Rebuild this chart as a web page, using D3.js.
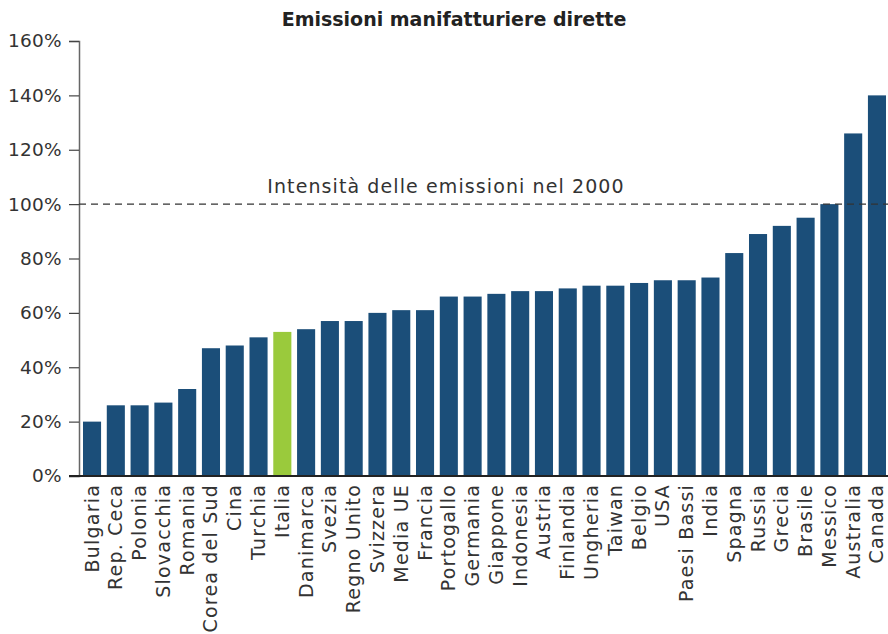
<!DOCTYPE html>
<html>
<head>
<meta charset="utf-8">
<script src="https://cdn.jsdelivr.net/npm/d3@7"></script>
<style>
  body { margin: 0; background: #fff; }
  text { font-family: "DejaVu Sans", sans-serif; fill: #333; }
</style>
</head>
<body>
<svg id="chart" width="888" height="634"></svg>
<script>
var paesi = ["Bulgaria", "Rep. Ceca", "Polonia", "Slovacchia", "Romania", "Corea del Sud", "Cina", "Turchia",
  "Italia", "Danimarca", "Svezia", "Regno Unito", "Svizzera", "Media UE", "Francia", "Portogallo", "Germania",
  "Giappone", "Indonesia", "Austria", "Finlandia", "Ungheria", "Taiwan", "Belgio", "USA", "Paesi Bassi",
  "India", "Spagna", "Russia", "Grecia", "Brasile", "Messico", "Australia", "Canada"];
var valori = [20, 26, 26, 27, 32, 47, 48, 51,
  53, 54, 57, 57, 60, 61, 61, 66, 66,
  67, 68, 68, 69, 70, 70, 71, 72, 72,
  73, 82, 89, 92, 95, 100, 126, 140];
var yTicks = [0, 20, 40, 60, 80, 100, 120, 140, 160];
var riferimento = 100;
var evidenziato = "Italia";

var svg = d3.select("#chart");
var x0 = 79, yTop = 41, yBase = 476;

var x = d3.scaleBand()
  .domain(paesi)
  .range([x0, 890])
  .paddingInner(0.24)
  .paddingOuter(0.168);

var y = d3.scaleLinear()
  .domain([0, 160])
  .range([yBase, yTop]);

// title
svg.append("text")
  .attr("x", 454)
  .attr("y", 26)
  .attr("text-anchor", "middle")
  .style("font-weight", "bold")
  .style("font-size", "19px")
  .style("fill", "#222")
  .text("Emissioni manifatturiere dirette");

// bars
svg.append("g")
  .selectAll("rect")
  .data(paesi)
  .enter().append("rect")
  .attr("x", function(d) { return x(d); })
  .attr("width", x.bandwidth())
  .attr("y", function(d, i) { return y(valori[i]); })
  .attr("height", function(d, i) { return y(0) - y(valori[i]); })
  .style("fill", function(d) { return d == evidenziato ? "#9aca3c" : "#1b4e79"; });

// y axis
var yAxis = d3.axisLeft(y)
  .tickValues(yTicks)
  .tickSize(10)
  .tickPadding(7)
  .tickFormat(function(d) { return d + "%"; });

var gy = svg.append("g")
  .attr("transform", "translate(" + x0 + ",0)")
  .call(yAxis);
gy.select(".domain").attr("stroke", "#666").attr("stroke-width", 1.5);
gy.selectAll(".tick line").attr("stroke", "#444").attr("stroke-width", 1.2);
gy.selectAll(".tick text")
  .style("font-size", "18.5px")
  .style("font-family", "DejaVu Sans, sans-serif")
  .style("letter-spacing", "0.3px")
  .attr("fill", "#333");

// x baseline
svg.append("line")
  .attr("x1", 69).attr("x2", 888)
  .attr("y1", y(0)).attr("y2", y(0))
  .attr("stroke", "#222")
  .attr("stroke-width", 2);

// x labels
svg.append("g")
  .selectAll("text")
  .data(paesi)
  .enter().append("text")
  .attr("transform", function(d) {
    return "translate(" + (x(d) + x.bandwidth() / 2 + 6.5) + "," + (yBase + 8) + ") rotate(-90)";
  })
  .attr("text-anchor", "end")
  .style("font-size", "19px")
  .style("letter-spacing", "1.2px")
  .text(function(d) { return d; });

// reference line
svg.append("line")
  .attr("x1", x0).attr("x2", 888)
  .attr("y1", y(riferimento)).attr("y2", y(riferimento))
  .attr("stroke", "#333")
  .attr("stroke-width", 1.3)
  .attr("stroke-dasharray", "7,5");

svg.append("text")
  .attr("x", 446)
  .attr("y", y(riferimento) - 11)
  .attr("text-anchor", "middle")
  .style("font-size", "19px")
  .style("letter-spacing", "1.1px")
  .text("Intensità delle emissioni nel 2000");
</script>
</body>
</html>
